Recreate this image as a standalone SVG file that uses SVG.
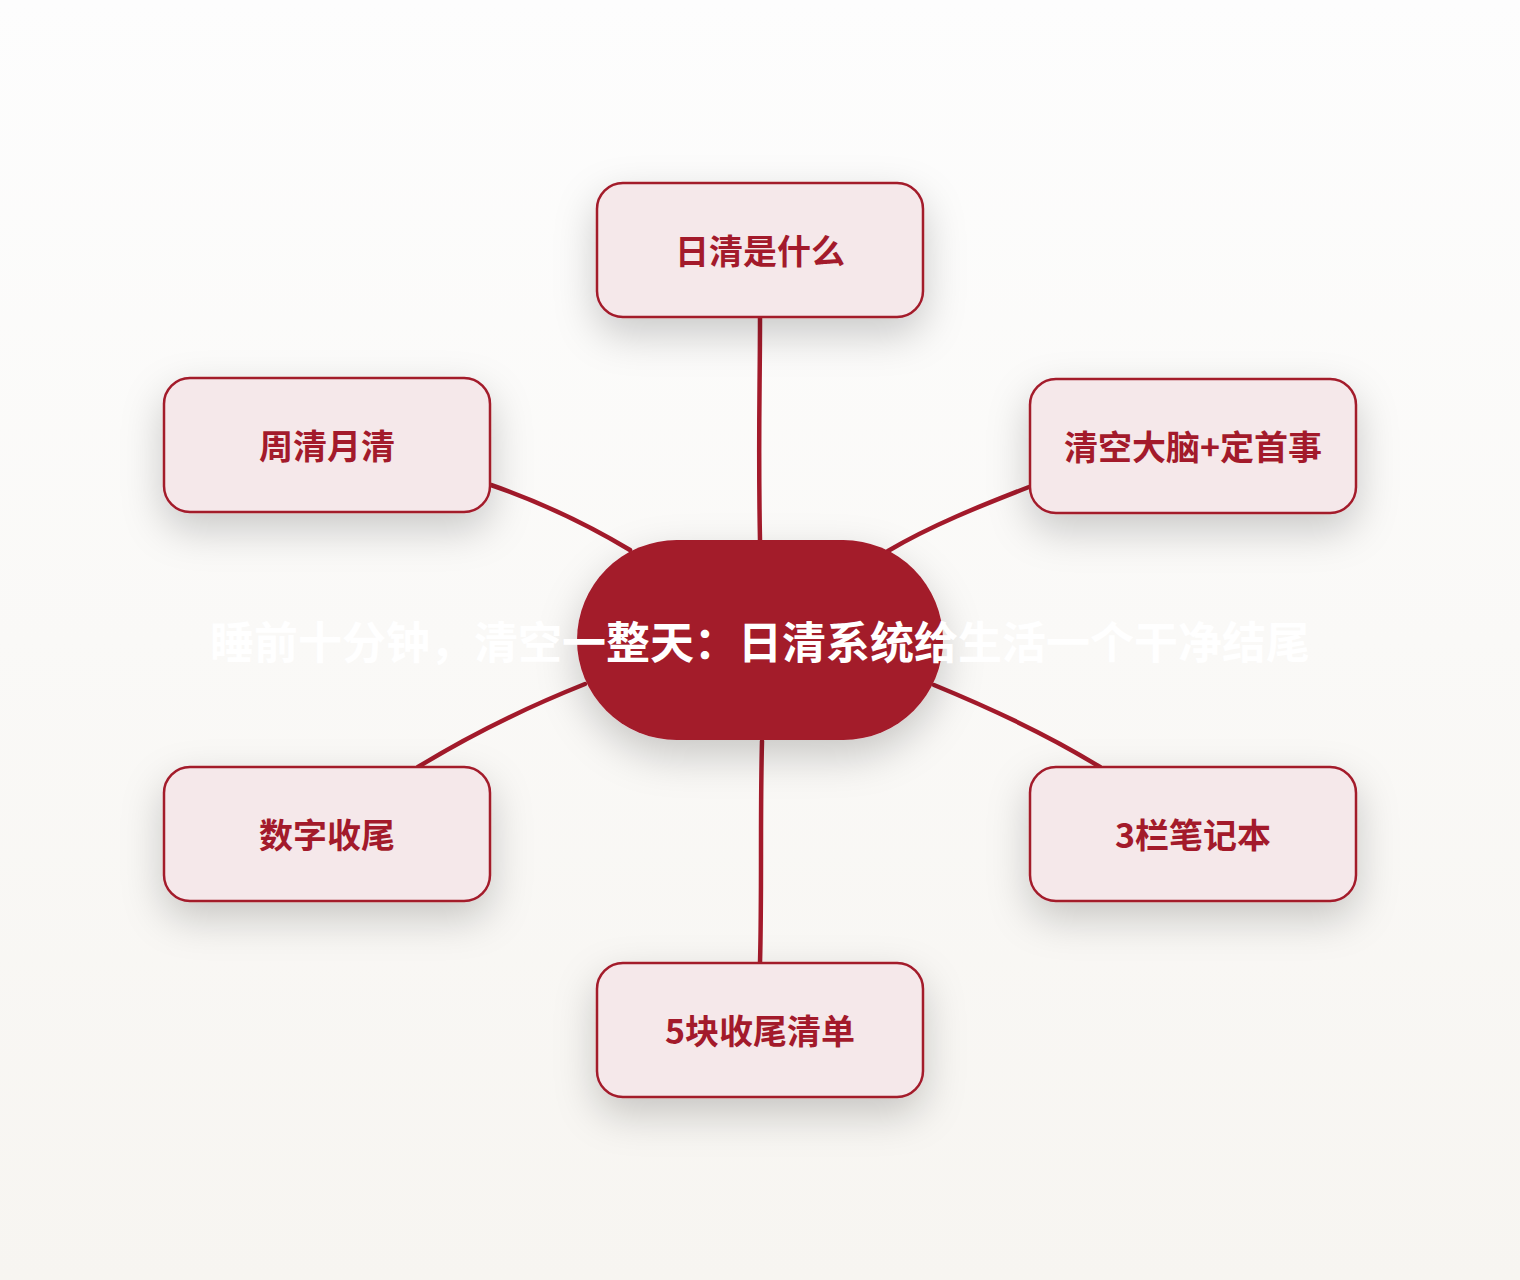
<svg xmlns="http://www.w3.org/2000/svg" width="1520" height="1280" viewBox="0 0 1520 1280">
<defs>
<linearGradient id="bg" x1="0" y1="0" x2="0" y2="1">
<stop offset="0" stop-color="#fdfdfd"/>
<stop offset="1" stop-color="#f7f5f1"/>
</linearGradient>
<filter id="sh" x="-40%" y="-50%" width="180%" height="220%">
<feDropShadow dx="0" dy="16" stdDeviation="20" flood-color="#000" flood-opacity="0.2"/>
</filter>
<style>
.box{fill:#f5e8ea;stroke:#a31a2b;stroke-width:2.5}
.lbl{font-family:"Noto Sans CJK SC","Noto Sans",sans-serif;font-weight:700;font-size:34px;fill:#a31a2b;text-anchor:middle}
.edge{fill:none;stroke:#a31a2b;stroke-width:4.5;stroke-linecap:round}
.title{font-family:"Noto Sans CJK SC","Noto Sans",sans-serif;font-weight:700;font-size:44px;fill:#ffffff;text-anchor:middle}
</style>
</defs>
<rect width="1520" height="1280" fill="url(#bg)"/>
<g id="connectors">
<path class="edge" d="M760 318 C760 390 758 440 760 540"/>
<path class="edge" d="M491 485 C540 502 590 526 630 550"/>
<path class="edge" d="M1029 487 C980 506 930 526 888 551"/>
<path class="edge" d="M585 684 C530 706 470 735 418 767"/>
<path class="edge" d="M934 685 C990 708 1050 736 1100 767"/>
<path class="edge" d="M762 741 C760 820 762 890 760 963"/>
</g>
<g id="center">
<rect x="577" y="540" width="366" height="200" rx="100" fill="#a31a2b" filter="url(#sh)"/>
<text class="title" x="760" y="659">睡前十分钟，清空一整天：日清系统给生活一个干净结尾</text>
</g>
<g id="n1">
<rect class="box" x="597" y="183" width="326" height="134" rx="26" filter="url(#sh)"/>
<text class="lbl" x="760" y="264">日清是什么</text>
</g>
<g id="n2">
<rect class="box" x="1030" y="379" width="326" height="134" rx="26" filter="url(#sh)"/>
<text class="lbl" x="1193" y="460">清空大脑+定首事</text>
</g>
<g id="n3">
<rect class="box" x="1030" y="767" width="326" height="134" rx="26" filter="url(#sh)"/>
<text class="lbl" x="1193" y="848">3栏笔记本</text>
</g>
<g id="n4">
<rect class="box" x="597" y="963" width="326" height="134" rx="26" filter="url(#sh)"/>
<text class="lbl" x="760" y="1044">5块收尾清单</text>
</g>
<g id="n5">
<rect class="box" x="164" y="767" width="326" height="134" rx="26" filter="url(#sh)"/>
<text class="lbl" x="327" y="848">数字收尾</text>
</g>
<g id="n6">
<rect class="box" x="164" y="378" width="326" height="134" rx="26" filter="url(#sh)"/>
<text class="lbl" x="327" y="459">周清月清</text>
</g>
</svg>
